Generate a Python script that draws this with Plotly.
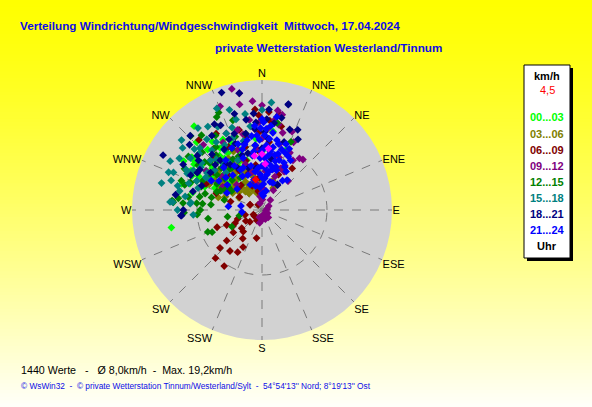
import plotly.graph_objects as go

# ---------------- data: (direction in degrees, speed in km/h) per time slot -------------
slots = ["00...03", "03...06", "06...09", "09...12", "12...15", "15...18", "18...21", "21...24"]
slot_colors = ["#00ff00", "#808000", "#800000", "#800080", "#008000", "#008080", "#000080", "#0000ff"]

lime = [(259,14.2),(302,14.2),(304,12.6),(321,16.6),(8,12.2),(22,10.1),(318,12.5),(322,10.6),(300,9.5),
        (310,8.8),(315,7.5),(325,9.0),(330,6.8),(335,8.2),(312,11.0),(305,10.5),(296,12.0),(318,6.0),
        (328,7.7),(340,9.8),(308,7.0),(314,5.5),(320,8.4),(326,11.5),(333,7.2),(298,9.0),(311,6.3),
        (345,10.0),(350,8.5),(290,11.8),(300,7.5),(305,6.0),(310,10.0),(318,8.2),(322,12.0),(327,5.0),
        (335,11.2),(312,13.0),(298,11.0),(306,12.8),(324,9.8),(316,6.8),
        (295,8.0),(303,9.0),(309,11.5),(313,8.0),(317,10.8),(321,6.5),(329,10.2),(338,7.0),(343,8.0),
        (299,12.5),(307,13.5),(316,14.5),(324,13.0),(331,12.4),(301,6.8),(292,9.5),(284,11.0),
        (355,11.0),(0,9.0),(288,13.0)]
olive = [(27,3.8),(340,4.4),(330,5.0),(320,6.2),(310,5.5),(335,3.5),(345,3.0),(325,7.0),(315,7.8),
         (300,5.2),(350,2.5),(355,4.0),(328,8.5),(318,4.6),(305,6.8),(338,6.0),(322,3.2),(312,8.0),
         (332,5.8),(348,5.0),(295,7.2),(342,2.8),(326,4.0),(316,6.5),(300,6.5),(308,4.5),(318,3.8),
         (324,7.4),(336,6.6),(344,5.5),(352,3.6),(312,9.0),(327,9.5),(302,8.5),(290,6.0),(333,4.2),
         (298,4.0),(304,7.6),(314,6.0),(320,8.6),(330,7.8),(340,8.0),(346,6.6),(354,6.0),(0,4.5),
         (10,3.0),(20,4.8),(306,9.8),(296,9.0),(286,7.0),(318,10.5),(334,10.0)]
maroon = [(249,7.4),(247,5.9),(241,5.1),(228,4.2),(221,4.4),(226,2.6),(206,1.8),(232,1.5),(254,2.7),
          (191,4.4),(214,5.3),(229,7.2),(207,6.4),(228,8.7),(224,10.3),(214,10.4),(324,1.0),(293,2.0),
          (358,14.6),(10,14.9),(36,7.9),(356,15.5),(344,12.8),(318,14.5),(318,10.8),(329,13.7),
          (356,9.2),(4,15.1),(11,14.9),(5,13.8),(13,13.2),(349,2.9),(294,2.0),(242,1.5),(330,7.0),
          (320,5.0),(340,6.0),(300,4.0),(310,8.0),(350,3.0),(355,5.0),(25,6.0),(325,9.0),(335,8.5),
          (345,10.0),(315,11.0),(305,6.5),(295,9.5),(338,4.0),(312,5.0),(244,4.6),(232,5.6),
          (300,7.0),(308,9.5),(316,7.5),(322,12.0),(332,11.0),(342,8.0),(348,11.5),(352,7.0),(0,8.5),
          (6,10.5),(358,12.0),(290,7.5),(285,5.0),(236,3.0),(218,8.0),(210,7.5),(250,4.0)]
purple = [(346,19.2),(349,18.3),(355,16.8),(0,16.1),(9,15.5),(12,15.0),(11,13.4),(15,12.3),(21,12.9),
          (36,9.8),(39,10.0),(26,9.8),(27,7.7),(21,5.5),(359,2.6),(344,1.1),(352,2.1),(355,12.5),
          (343,12.9),(348,16.6),(338,17.2),(5,6.0),(10,8.5),(30,6.8),(330,9.0),(320,11.0),(340,7.5),
          (350,4.0),(5,3.2),(25,11.5),(15,10.5),(335,13.0),(310,8.0),(2,1.6),(8,14.0),(355,9.5),
          (0,11.0),(345,6.0),(20,4.5),(30,3.5),(15,6.5),(325,8.5),(315,5.5),(40,2.0),(150,0.8),
          (120,1.0),(170,0.8),(100,0.6),(200,1.2),(160,1.5),
          (330,12.0),(338,10.0),(346,12.0),(352,14.0),(358,13.5),(4,12.5),(18,8.5),(24,7.0),(32,9.0),
          (42,6.0),(305,10.5),(300,7.0),(318,13.5),(60,1.2),(80,0.8),(140,1.5),(180,1.5),(190,2.0)]
green = [(248,9.0),(246,8.4),(261,8.4),(259,5.4),(256,3.6),(241,5.3),(275,12.2),(275,13.7),(276,10.1),
         (276,9.2),(276,7.9),(276,13.9),(266,10.0),(316,15.8),(336,16.4),(334,15.9),(291,11.8),
         (290,13.2),(321,14.8),(10,13.6),(23,11.4),(291,10.0),(286,9.1),(300,8.0),(310,9.5),(305,12.0),
         (295,7.0),(320,11.0),(315,6.5),(285,6.0),(298,13.5),(330,9.0),(340,12.0),(302,5.5),(312,10.8),
         (280,11.5),(325,8.0),(300,11.5),(308,8.8),(318,10.2),(326,6.0),(334,10.5),(296,10.2),
         (304,6.2),(314,12.8),(322,8.0),(282,9.8),(292,7.5),
         (288,12.5),(294,11.0),(302,9.8),(306,14.0),(310,11.5),(316,9.0),(324,12.0),(328,13.5),
         (336,9.0),(342,14.5),(348,12.0),(270,9.5),(268,12.0),(278,13.0),(284,8.0),(298,6.5),(310,7.5)]
teal = [(288,14.7),(283,13.0),(298,13.2),(297,12.5),(275,11.1),(266,10.6),(275,13.8),(289,10.4),
        (293,14.8),(297,12.7),(275,14.2),(276,11.0),(311,16.4),(322,16.0),(327,15.3),(336,17.1),
        (350,15.0),(5,16.6),(0,15.4),(342,16.2),(305,11.5),(315,13.5),(300,10.0),(320,12.0),(330,11.5),
        (310,9.5),(290,12.0),(335,13.0),(345,11.0),(325,9.0),(318,10.5),(302,15.0),(285,16.0),(312,14.0),
        (300,9.2),(308,11.8),(316,8.0),(322,13.8),(328,10.8),(334,8.5),(296,12.8),(304,10.2),(340,13.5),
        (312,13.0),
        (294,11.0),(300,12.2),(306,13.6),(314,11.0),(320,9.6),(326,12.6),(332,14.5),(338,12.0),
        (344,14.5),(352,13.0),(280,12.0),(286,13.5),(292,15.5),(298,16.0),(308,15.5),(270,13.0)]
navy = [(341,19.1),(349,18.3),(14,16.8),(355,14.9),(4,15.5),(331,15.1),(316,15.9),(266,12.4),(270,12.1),
        (344,15.4),(350,14.1),(14,16.7),(27,12.2),(31,4.6),(32,4.5),(19,13.1),(266,12.5),(299,17.4),
        (303,11.4),(335,12.0),(345,10.5),(355,12.5),(5,11.0),(320,10.0),(310,13.0),(325,8.5),(340,9.0),
        (300,14.0),(285,11.0),(0,9.5),(10,8.0),(352,6.5),(330,7.5),(338,11.0),(346,9.0),(354,10.0),
        (2,12.0),(8,13.5),(318,11.5),(306,9.8),(296,12.2),(326,13.8),(342,6.8),
        (300,11.5),(308,12.4),(314,10.0),(322,9.0),(328,11.0),(334,14.5),(340,12.5),(348,12.0),
        (356,13.5),(3,14.0),(12,14.5),(18,11.0),(24,13.5),(292,10.0),(280,13.5),(312,15.0)]
blue = [(359,12.6),(358,10.8),(8,9.1),(13,8.7),(18,9.8),(6,7.3),(14,6.4),(5,4.9),(335,4.3),(336,7.1),
        (352,9.1),(345,10.4),(264,3.1),(276,5.2),(281,3.3),(19,8.1),(0,14.0),(2,11.5),(3,8.0),(10,6.0),
        (15,7.8),(20,6.5),(25,8.0),(357,5.5),(350,6.0),(355,3.5),(4,10.0),(12,11.0),(8,12.0),(1,2.5),
        (340,8.5),(330,6.0),(320,7.0),(310,5.0),(22,9.5),(28,7.5),(16,4.5),(6,13.0),(352,11.5),(345,3.8),
        (5,2.2),(0,6.8),(350,8.5),(354,10.0),(358,8.0),(2,9.5),(6,11.0),(10,9.8),(14,10.5),(18,7.0),
        (346,7.0),(342,9.8),(338,5.8),(328,8.0),(334,10.6),(318,8.8),(306,6.6),(300,9.0),(0,5.0),
        (4,6.5),(24,10.3),(30,8.8),(35,5.5),(345,4.8),
        (356,11.5),(359,9.0),(3,12.5),(7,8.5),(11,7.0),(16,9.0),(20,10.8),(26,9.2),(32,7.0),(40,6.0),
        (355,13.0),(1,13.5),(9,14.5),(348,11.0),(340,10.8),(332,7.0),(324,9.5),(312,7.5),(304,8.0),
        (296,6.0),(355,6.5),(3,4.0),(12,3.0),(22,4.5),(8,5.5)]
groups = [lime, olive, maroon, purple, green, teal, navy, blue]

recent = [(0,8.6),(4,7.1),(352,8.4),(6,9.5)]   # magenta highlighted values
current = [(348,4.8)]                          # red current value
current_label = "4,5"

directions = ["N","NNE","NE","ENE","E","ESE","SE","SSE","S","SSW","SW","WSW","W","WNW","NW","NNW"]
dir_angles = [i * 22.5 for i in range(16)]
r_max = 20
ring = [10]

title1 = "Verteilung Windrichtung/Windgeschwindigkeit  Mittwoch, 17.04.2024"
title2 = "private Wetterstation Westerland/Tinnum"
stats = "1440 Werte   -   \u00d8 8,0km/h  -  Max. 19,2km/h"
footer = "\u00a9 WsWin32  -  \u00a9 private Wetterstation Tinnum/Westerland/Sylt  -  54\u00b054'13'' Nord; 8\u00b019'13'' Ost"

# ---------------- figure -------------
W, H = 592, 407
fig = go.Figure()

msize = 6
for pts, col, name in zip(groups, slot_colors, slots):
    fig.add_trace(go.Scatterpolar(
        theta=[p[0] for p in pts], r=[p[1] for p in pts], mode="markers", name=name,
        marker=dict(symbol="diamond", size=msize, color=col, line=dict(width=0)),
        hoverinfo="skip", showlegend=False))
fig.add_trace(go.Scatterpolar(theta=[p[0] for p in recent], r=[p[1] for p in recent], mode="markers",
                              marker=dict(symbol="diamond", size=msize, color="#ff00ff"), showlegend=False))
fig.add_trace(go.Scatterpolar(theta=[p[0] for p in current], r=[p[1] for p in current], mode="markers",
                              marker=dict(symbol="diamond", size=msize, color="#ff0000"), showlegend=False))

cx, cy, rad = 262, 210, 130
fig.update_layout(
    width=W, height=H, autosize=False,
    margin=dict(l=0, r=0, t=0, b=0),
    paper_bgcolor="#ffff00",
    font=dict(family="Liberation Sans, Arial, sans-serif", size=11, color="black"),
    polar=dict(
        domain=dict(x=[(cx - rad) / W, (cx + rad) / W], y=[1 - (cy + rad) / H, 1 - (cy - rad) / H]),
        bgcolor="#d2d2d2",
        angularaxis=dict(rotation=90, direction="clockwise", tickmode="array",
                         tickvals=dir_angles, ticktext=directions, ticks="",
                         showline=False, gridcolor="#7a7a7a", griddash="dash", gridwidth=1,
                         tickfont=dict(size=11, color="black")),
        radialaxis=dict(range=[0, r_max], tickvals=ring, showticklabels=False, ticks="",
                        showline=False, gridcolor="#7a7a7a", griddash="dash", gridwidth=1),
    ),
)

# gradient background (yellow -> near white)
shapes = []
n = 120
for i in range(n):
    t = (i + 0.5) / n
    b = int(round(250 * t ** 1.3))
    shapes.append(dict(type="rect", xref="paper", yref="paper", x0=0, x1=1,
                       y0=1 - (i + 1) / n - 0.002, y1=1 - i / n,
                       fillcolor=f"rgb(255,255,{b})", line=dict(width=0), layer="below"))
# legend box with shadow
bx0, bx1, by0, by1 = 524, 570, 65, 258
shapes.append(dict(type="rect", xref="paper", yref="paper", x0=(bx0 + 3) / W, x1=(bx1 + 3) / W,
                   y0=1 - (by1 + 3) / H, y1=1 - (by0 + 3) / H, fillcolor="black",
                   line=dict(width=0), layer="above"))
shapes.append(dict(type="rect", xref="paper", yref="paper", x0=bx0 / W, x1=bx1 / W,
                   y0=1 - by1 / H, y1=1 - by0 / H, fillcolor="white",
                   line=dict(width=1, color="black"), layer="above"))
fig.update_layout(shapes=shapes)

ann = []
def text(x, y, s, size=11, color="black", bold=False, anchor="left"):
    ann.append(dict(x=x / W, y=1 - y / H, xref="paper", yref="paper", text=(f"<b>{s}</b>" if bold else s),
                    showarrow=False, xanchor=anchor, yanchor="middle",
                    font=dict(size=size, color=color, family="Liberation Sans, Arial, sans-serif")))

text(18, 25, title1, size=11.7, color="#0d0de6", bold=True)
text(213, 48, title2, size=11.7, color="#0d0de6", bold=True)
text(19, 370, stats, size=10.7, color="black")
text(19, 386, footer, size=8.3, color="#0d0de6")

lx = (bx0 + bx1) / 2
text(lx, 76, "km/h", size=11, bold=True, anchor="center")
text(lx, 90, current_label, size=11, color="#ff0000", anchor="center")
ys = [117, 134, 150, 166, 182, 198, 214, 230]
for s, c, y in zip(slots, slot_colors, ys):
    text(lx, y, s, size=11, color=c, bold=True, anchor="center")
text(lx, 246, "Uhr", size=11, bold=True, anchor="center")
fig.update_layout(annotations=ann)

fig.write_html("out.html", config={"displayModeBar": False},
               post_script="document.body.style.margin='0';document.body.style.overflow='hidden';")
